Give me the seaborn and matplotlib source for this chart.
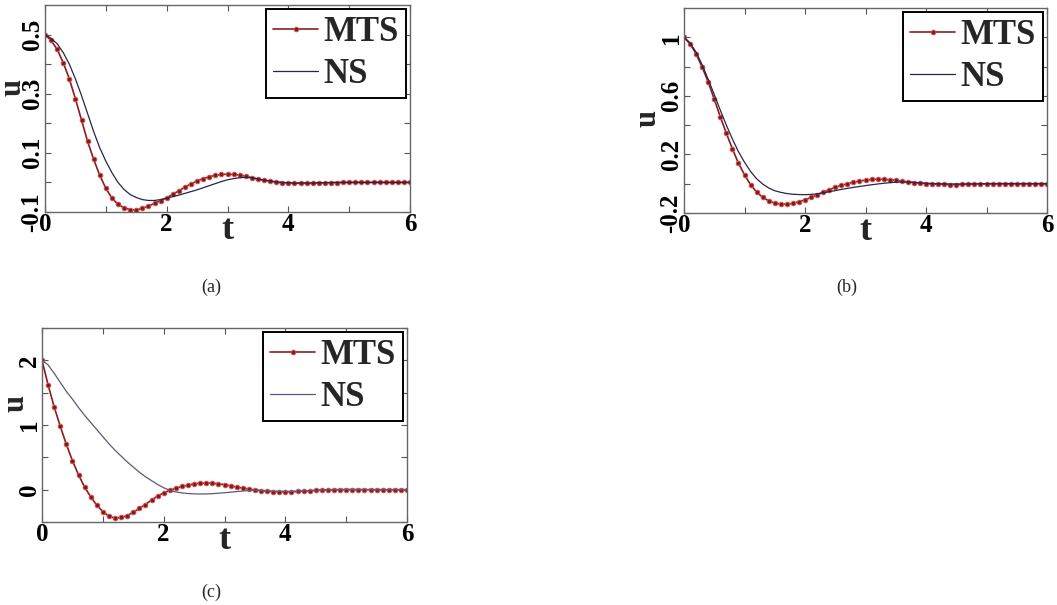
import numpy as np
import matplotlib
matplotlib.use("Agg")
import matplotlib.pyplot as plt
import seaborn as sns

# time grid (0 to 6, step 0.1)
t = np.linspace(0, 6, 61)

# panel (a)
mts_a = [0.500, 0.480, 0.450, 0.405, 0.350, 0.283, 0.211, 0.139, 0.078, 0.024,
         -0.020, -0.053, -0.074, -0.086, -0.092, -0.093, -0.088, -0.080, -0.071, -0.062,
         -0.052, -0.040, -0.028, -0.016, -0.005, 0.005, 0.013, 0.019, 0.024, 0.027,
         0.028, 0.027, 0.025, 0.021, 0.016, 0.011, 0.007, 0.004, 0.001, -0.001,
         -0.002, -0.003, -0.003, -0.003, -0.003, -0.002, -0.002, -0.001, -0.001, 0.000,
         0.0, 0.0, 0.0, 0.0, 0.0, 0.0, 0.0, 0.0, 0.0, 0.0, 0.0]
ns_a = [0.500, 0.487, 0.469, 0.439, 0.400, 0.350, 0.294, 0.233, 0.172, 0.117,
        0.072, 0.033, 0.000, -0.024, -0.041, -0.051, -0.058, -0.061, -0.061, -0.058,
        -0.053, -0.048, -0.043, -0.037, -0.031, -0.025, -0.018, -0.011, -0.004, 0.003,
        0.009, 0.013, 0.016, 0.017, 0.016, 0.012, 0.008, 0.005, 0.002, 0.000,
        -0.001, -0.002, -0.002, -0.002, -0.002, -0.001, -0.001, 0.0, 0.0, 0.0,
        0.0, 0.0, 0.0, 0.0, 0.0, 0.0, 0.0, 0.0, 0.0, 0.0, 0.0]

# panel (b)
mts_b = [1.000, 0.955, 0.887, 0.796, 0.695, 0.577, 0.457, 0.344, 0.238, 0.140,
         0.061, -0.007, -0.057, -0.093, -0.117, -0.133, -0.139, -0.140, -0.134, -0.123,
         -0.110, -0.094, -0.076, -0.058, -0.041, -0.025, -0.011, 0.000, 0.010, 0.018,
         0.025, 0.029, 0.031, 0.030, 0.027, 0.023, 0.018, 0.012, 0.008, 0.004,
         0.001, -0.002, -0.004, -0.005, -0.006, -0.006, -0.005, -0.004, -0.003, -0.002,
         -0.001, 0.0, 0.0, 0.0, 0.0, 0.0, 0.0, 0.0, 0.0, 0.0, 0.0]
ns_b = [1.000, 0.962, 0.898, 0.812, 0.713, 0.609, 0.502, 0.400, 0.305, 0.219,
        0.147, 0.084, 0.034, -0.002, -0.029, -0.048, -0.059, -0.067, -0.072, -0.074,
        -0.075, -0.073, -0.069, -0.062, -0.055, -0.047, -0.039, -0.032, -0.025, -0.019,
        -0.013, -0.007, -0.002, 0.003, 0.007, 0.010, 0.012, 0.011, 0.009, 0.006,
        0.003, 0.001, 0.000, -0.001, -0.002, -0.002, -0.002, -0.001, -0.001, 0.0,
        0.0, 0.0, 0.0, 0.0, 0.0, 0.0, 0.0, 0.0, 0.0, 0.0, 0.0]

# panel (c)
mts_c = [2.00, 1.62, 1.28, 0.98, 0.70, 0.45, 0.23, 0.04, -0.11, -0.24,
         -0.34, -0.41, -0.44, -0.43, -0.40, -0.35, -0.29, -0.23, -0.16, -0.10,
         -0.05, -0.01, 0.02, 0.05, 0.07, 0.09, 0.10, 0.105, 0.10, 0.09,
         0.077, 0.06, 0.04, 0.025, 0.01, -0.005, -0.015, -0.024, -0.030, -0.033,
         -0.034, -0.032, -0.028, -0.023, -0.017, -0.012, -0.007, -0.003, 0.0, 0.001,
         0.002, 0.002, 0.002, 0.001, 0.001, 0.0, 0.0, 0.0, 0.0, 0.0, 0.0]
ns_c = [2.00, 1.93, 1.80, 1.66, 1.52, 1.40, 1.27, 1.15, 1.04, 0.93,
        0.82, 0.71, 0.61, 0.52, 0.43, 0.35, 0.27, 0.20, 0.14, 0.08,
        0.03, -0.01, -0.035, -0.050, -0.060, -0.065, -0.067, -0.066, -0.062, -0.055,
        -0.047, -0.039, -0.030, -0.021, -0.013, -0.008, -0.014, -0.020, -0.024, -0.026,
        -0.027, -0.026, -0.023, -0.019, -0.015, -0.011, -0.007, -0.004, -0.001, 0.0,
        0.0, 0.0, 0.0, 0.0, 0.0, 0.0, 0.0, 0.0, 0.0, 0.0, 0.0]

x_ticks = [0, 1, 2, 3, 4, 5, 6]
x_labels = ["0", "", "2", "", "4", "", "6"]

y_ticks_a = [-0.1, 0.0, 0.1, 0.2, 0.3, 0.4, 0.5]
y_labels_a = ["-0.1", "", "0.1", "", "0.3", "", "0.5"]
y_ticks_b = [-0.2, 0.0, 0.2, 0.4, 0.6, 0.8, 1.0]
y_labels_b = ["-0.2", "", "0.2", "", "0.6", "", "1"]
y_ticks_c = [-0.5, 0.0, 0.5, 1.0, 1.5, 2.0, 2.5]
y_labels_c = ["", "0", "", "1", "", "2", ""]

SERIF = "Liberation Serif"


def draw_panel(ax, mts, ns, yticks, ylabels, ylim, ns_color, ulab_xy):
    sns.lineplot(x=t, y=mts, ax=ax, color="#8b1c1c", linewidth=1.2,
                 marker="o", markersize=3.2, markerfacecolor="#6e1f1f",
                 markeredgecolor="#d84a4a", markeredgewidth=0.8, label="MTS")
    sns.lineplot(x=t, y=ns, ax=ax, color=ns_color, linewidth=0.9, label="NS")

    ax.set_xlim(0, 6)
    ax.set_ylim(*ylim)
    ax.set_xticks(x_ticks)
    ax.set_xticklabels(x_labels, fontfamily=SERIF, fontweight="bold", fontsize=18)
    ax.set_yticks(yticks)
    ax.set_yticklabels(ylabels, fontfamily=SERIF, fontweight="bold", fontsize=18,
                       rotation=90, va="center")
    ax.tick_params(direction="in", length=4, width=0.8, colors="#555555",
                   top=True, right=True, pad=1)
    for lab in ax.get_xticklabels() + ax.get_yticklabels():
        lab.set_color("black")
    for sp in ax.spines.values():
        sp.set_color("#666666")
        sp.set_linewidth(1.0)

    ax.set_xlabel("t", fontfamily=SERIF, fontweight="bold", fontsize=26, labelpad=-16)
    ax.set_ylabel("u", fontfamily=SERIF, fontweight="bold", fontsize=22)
    ax.yaxis.set_label_coords(*ulab_xy)

    leg = ax.legend(loc="upper right", prop=dict(family=SERIF, weight="bold", size=25),
                    frameon=True, fancybox=False, edgecolor="black", framealpha=1,
                    borderaxespad=0.12, handlelength=1.3, handletextpad=0.15,
                    labelspacing=0.25, borderpad=0.2)
    leg.get_frame().set_linewidth(1.4)


sns.set_style("ticks")
fig = plt.figure(figsize=(10.57, 6.05), dpi=100)

ax_a = fig.add_axes([45 / 1057, 1 - 212 / 605, 365 / 1057, 207 / 605])
ax_b = fig.add_axes([684 / 1057, 1 - 213 / 605, 363 / 1057, 205 / 605])
ax_c = fig.add_axes([42 / 1057, 1 - 522 / 605, 365 / 1057, 194 / 605])

draw_panel(ax_a, mts_a, ns_a, y_ticks_a, y_labels_a, (-0.1, 0.6), "#262645", (-0.047, 0.6))
draw_panel(ax_b, mts_b, ns_b, y_ticks_b, y_labels_b, (-0.2, 1.2), "#262650", (-0.058, 0.46))
draw_panel(ax_c, mts_c, ns_c, y_ticks_c, y_labels_c, (-0.5, 2.5), "#5a5a78", (-0.032, 0.61))

fig.text(211 / 1057, 1 - 287 / 605, "(a)", ha="center", va="center",
         fontfamily=SERIF, fontsize=13)
fig.text(847 / 1057, 1 - 287 / 605, "(b)", ha="center", va="center",
         fontfamily=SERIF, fontsize=13)
fig.text(211 / 1057, 1 - 592 / 605, "(c)", ha="center", va="center",
         fontfamily=SERIF, fontsize=13)

fig.savefig("out.png", dpi=100)
